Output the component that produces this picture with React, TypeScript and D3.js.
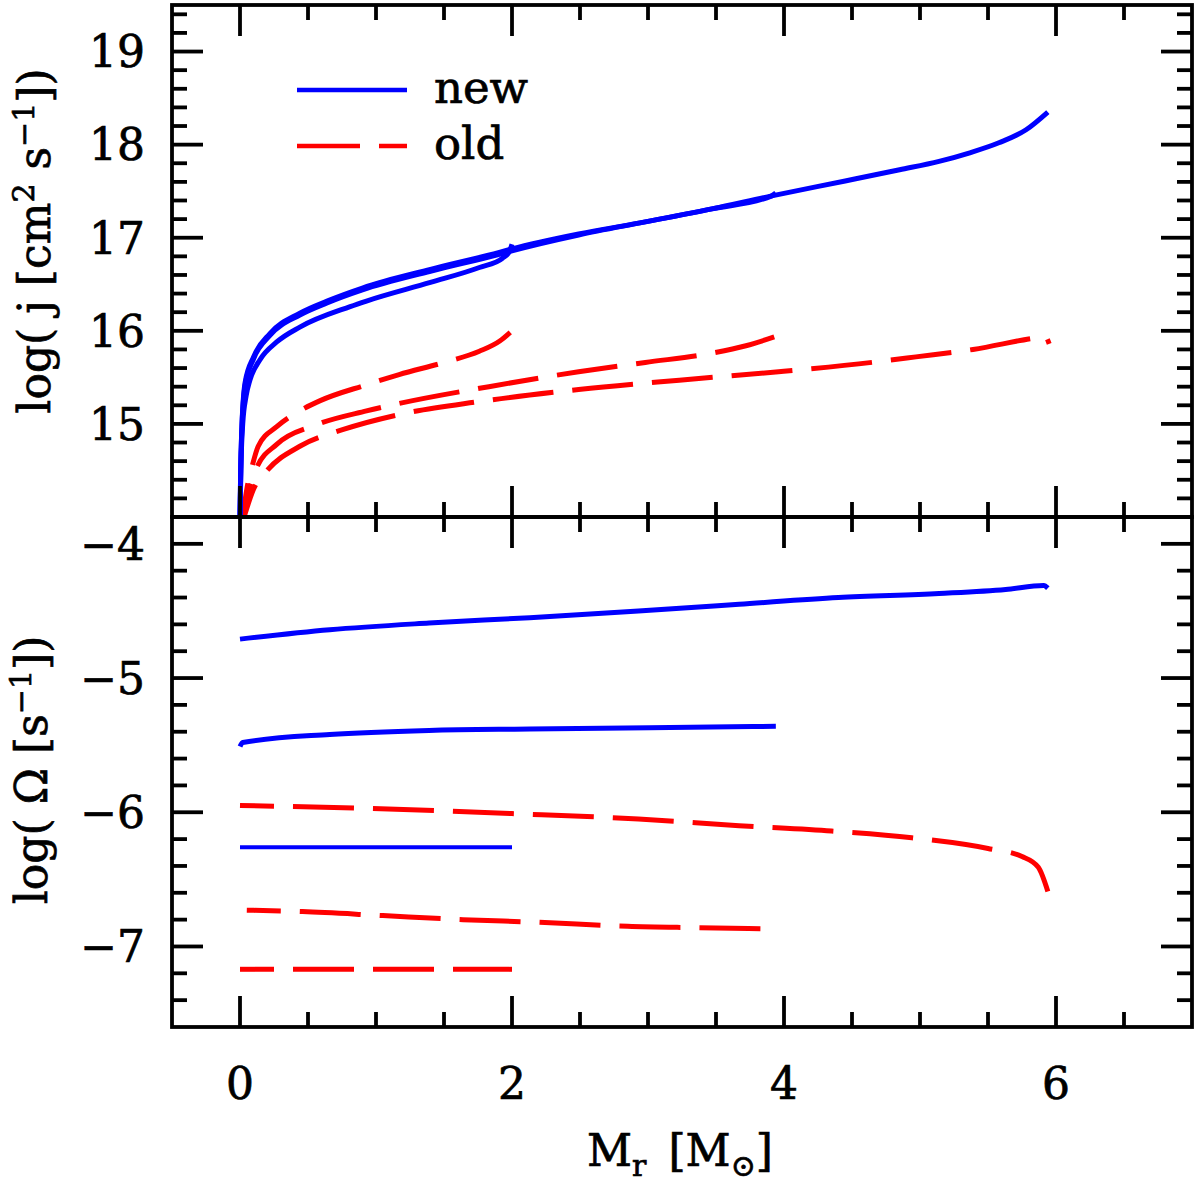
import * as d3 from "d3";
import { useRef, useEffect } from "react";

// top panel: log j [cm^2 s^-1] against M_r [Msun]
const jNew2 = [[0, 14.0], [0.008, 14.6], [0.02, 15.0], [0.045, 15.3], [0.073, 15.47], [0.147, 15.69], [0.27, 15.88], [0.44, 16.04], [0.81, 16.26], [0.93, 16.32], [1.4, 16.52], [1.76, 16.68], [1.93, 16.78], [1.98, 16.85], [2.0, 16.93]];
const jNew4 = [[0, 14.0], [0.005, 14.5], [0.012, 14.88], [0.037, 15.41], [0.1, 15.7], [0.22, 15.95], [0.44, 16.17], [0.64, 16.3], [0.9, 16.44], [1.4, 16.64], [1.9, 16.82], [2.0, 16.86], [2.49, 17.03], [2.98, 17.17], [3.47, 17.31], [3.91, 17.45], [3.94, 17.48]];
const jNew6 = [[0, 14.0], [0.005, 14.5], [0.012, 14.9], [0.037, 15.44], [0.1, 15.72], [0.22, 15.97], [0.44, 16.19], [0.64, 16.32], [0.9, 16.46], [1.4, 16.66], [1.9, 16.84], [2.0, 16.88], [2.49, 17.04], [2.98, 17.17], [3.47, 17.31], [3.91, 17.45], [4.45, 17.61], [4.85, 17.73], [5.14, 17.82], [5.36, 17.91], [5.58, 18.02], [5.78, 18.16], [5.94, 18.35]];
const jOld2 = [[0.02, 14.0], [0.05, 14.3], [0.09, 14.55], [0.134, 14.76], [0.27, 14.97], [0.44, 15.14], [0.59, 15.25], [0.93, 15.42], [1.17, 15.53], [1.5, 15.66], [1.76, 15.78], [1.91, 15.89], [2.0, 16.0]];
const jOld4 = [[0.02, 14.0], [0.06, 14.25], [0.12, 14.52], [0.27, 14.78], [0.56, 14.99], [0.93, 15.14], [1.17, 15.22], [1.83, 15.4], [2.49, 15.56], [2.98, 15.66], [3.47, 15.76], [3.72, 15.84], [3.96, 15.95]];
const jOld6 = [[0.03, 14.0], [0.1, 14.3], [0.2, 14.5], [0.44, 14.76], [0.76, 14.94], [1.17, 15.1], [1.76, 15.24], [2.49, 15.37], [3.23, 15.47], [3.96, 15.56], [4.7, 15.67], [4.97, 15.72], [5.39, 15.8], [5.83, 15.92], [5.92, 15.94], [5.95, 15.86]];

// bottom panel: log Omega [s^-1] against M_r [Msun]
const omNew2 = [[0, -6.26], [2.0, -6.26]];
const omNew4 = [[0, -5.51], [0.02, -5.48], [0.66, -5.42], [1.39, -5.39], [2.13, -5.38], [3.01, -5.37], [3.94, -5.36]];
const omNew6 = [[0, -4.71], [0.66, -4.64], [1.39, -4.59], [2.13, -4.55], [2.93, -4.5], [3.67, -4.45], [4.4, -4.4], [5.14, -4.37], [5.63, -4.34], [5.91, -4.31], [5.94, -4.33]];
const omOld2 = [[0, -7.17], [2.0, -7.17]];
const omOld4 = [[0.05, -6.73], [0.46, -6.74], [1.05, -6.77], [1.64, -6.8], [2.2, -6.82], [2.85, -6.85], [3.37, -6.86], [3.96, -6.87]];
const omOld6 = [[0, -5.95], [0.9, -5.97], [2.0, -6.01], [2.93, -6.05], [3.67, -6.1], [4.35, -6.14], [4.94, -6.19], [5.5, -6.27], [5.75, -6.33], [5.87, -6.41], [5.94, -6.59]];

const xTicks = [0, 2, 4, 6];
const jTicks = [15, 16, 17, 18, 19];
const omTicks = [-7, -6, -5, -4];
const legendLabels = ["new", "old"];

const BLUE = "#0000ff";
const RED = "#ff0000";
const FONT = "'DejaVu Serif', serif";

export default function App() {
  const ref = useRef(null);

  useEffect(() => {
    const svg = d3.select(ref.current);
    svg.selectAll("*").remove();

    const left = 172, right = 1192, top = 5, mid = 517, bottom = 1027;
    const x = d3.scaleLinear().domain([-0.5, 7]).range([left, right]);
    const yJ = d3.scaleLinear().domain([14, 19.5]).range([mid, top]);
    const yOm = d3.scaleLinear().domain([-7.6, -3.8]).range([bottom, mid]);

    const g = svg.append("g");

    // curves
    function curve(data, y, color, dashed, width = 5) {
      const line = d3.line()
        .x(d => x(d[0]))
        .y(d => y(d[1]))
        .curve(d3.curveMonotoneX);
      g.append("path")
        .attr("d", line(data))
        .attr("fill", "none")
        .attr("stroke", color)
        .attr("stroke-width", width)
        .attr("stroke-linejoin", "round")
        .attr("stroke-dasharray", dashed ? "61 19" : null)
        .attr("stroke-dashoffset", dashed ? 27 : null);
    }

    [jOld2, jOld4, jOld6].forEach(d => curve(d, yJ, RED, true));
    [jNew2, jNew4, jNew6].forEach(d => curve(d, yJ, BLUE, false));
    [omOld2, omOld4, omOld6].forEach(d => curve(d, yOm, RED, true));
    curve(omNew2, yOm, BLUE, false, 4);
    [omNew4, omNew6].forEach(d => curve(d, yOm, BLUE, false));

    // frames + ticks
    const axes = svg.append("g").attr("stroke", "#000").attr("stroke-width", 3.8);
    const xAll = d3.range(1, 16).map(i => i * 0.5 - 0.5).filter(v => v < 7);

    function panel(y, y0, y1, minorLo, minorHi) {
      axes.append("rect")
        .attr("x", left).attr("y", y1)
        .attr("width", right - left).attr("height", y0 - y1)
        .attr("fill", "none");

      xAll.forEach(v => {
        const len = xTicks.includes(v) ? 31 : 15;
        axes.append("line").attr("x1", x(v)).attr("x2", x(v)).attr("y1", y1).attr("y2", y1 + len);
        axes.append("line").attr("x1", x(v)).attr("x2", x(v)).attr("y1", y0).attr("y2", y0 - len);
      });

      d3.range(minorLo, minorHi + 1).map(i => i / 5).forEach(v => {
        const len = Number.isInteger(v) ? 31 : 15;
        axes.append("line").attr("x1", left).attr("x2", left + len).attr("y1", y(v)).attr("y2", y(v));
        axes.append("line").attr("x1", right).attr("x2", right - len).attr("y1", y(v)).attr("y2", y(v));
      });
    }
    panel(yJ, mid, top, 71, 97);
    panel(yOm, bottom, mid, -37, -20);

    const text = svg.append("g")
      .attr("font-family", FONT)
      .attr("fill", "#000")
      .attr("stroke", "#000")
      .attr("stroke-width", 0.7);

    jTicks.forEach(v => {
      text.append("text")
        .attr("x", 145).attr("y", yJ(v)).attr("dy", "0.36em")
        .attr("text-anchor", "end").attr("font-size", 44)
        .text(v);
    });
    omTicks.forEach(v => {
      text.append("text")
        .attr("x", 145).attr("y", yOm(v)).attr("dy", "0.36em")
        .attr("text-anchor", "end").attr("font-size", 44)
        .text("\u2212" + Math.abs(v));
    });
    xTicks.forEach(v => {
      text.append("text")
        .attr("x", x(v)).attr("y", 1083).attr("dy", "0.36em")
        .attr("text-anchor", "middle").attr("font-size", 44)
        .text(v);
    });

    // axis titles
    const xl = text.append("text")
      .attr("x", 680).attr("y", 1166)
      .attr("text-anchor", "middle").attr("font-size", 44);
    xl.append("tspan").text("M");
    xl.append("tspan").attr("dy", 10).attr("font-size", 30).text("r");
    xl.append("tspan").attr("dy", -10).text("\u2002[M");
    xl.append("tspan").attr("dy", 10).attr("font-size", 30).text("\u2299");
    xl.append("tspan").attr("dy", -10).text("]");

    const yl1 = text.append("text")
      .attr("transform", "translate(50,241) rotate(-90)")
      .attr("text-anchor", "middle").attr("font-size", 44);
    yl1.append("tspan").text("log( j [cm");
    yl1.append("tspan").attr("dy", -16).attr("font-size", 30).text("2");
    yl1.append("tspan").attr("dy", 16).text(" s");
    yl1.append("tspan").attr("dy", -16).attr("font-size", 30).text("\u22121");
    yl1.append("tspan").attr("dy", 16).text("])");

    const yl2 = text.append("text")
      .attr("transform", "translate(47,770) rotate(-90)")
      .attr("text-anchor", "middle").attr("font-size", 44);
    yl2.append("tspan").text("log( \u03a9 [s");
    yl2.append("tspan").attr("dy", -16).attr("font-size", 30).text("\u22121");
    yl2.append("tspan").attr("dy", 16).text("])");

    // legend
    const legend = svg.append("g");
    legendLabels.forEach((label, i) => {
      const ly = 90 + i * 56;
      legend.append("line")
        .attr("x1", 297).attr("x2", 407).attr("y1", ly).attr("y2", ly)
        .attr("stroke", i === 0 ? BLUE : RED)
        .attr("stroke-width", 4.5)
        .attr("stroke-dasharray", i === 0 ? null : "63 19");
      legend.append("text")
        .attr("x", 434).attr("y", ly + 13)
        .attr("font-family", FONT).attr("font-size", 45)
        .attr("stroke", "#000").attr("stroke-width", 0.7)
        .text(label);
    });
  }, []);

  return (
    <svg
      ref={ref}
      width={1200}
      height={1184}
      style={{ position: "absolute", left: 0, top: 0, background: "#fff" }}
    />
  );
}
